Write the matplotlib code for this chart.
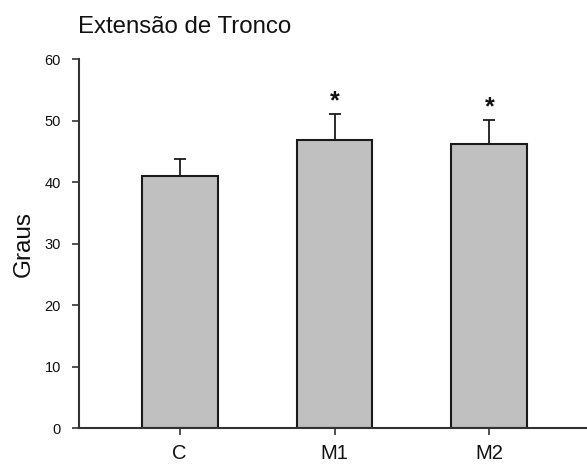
import matplotlib
matplotlib.use("Agg")
import matplotlib.pyplot as plt

# Trunk extension (degrees), mean and SD per group
groups = ["C", "M1", "M2"]
means = [41.1, 46.8, 46.3]
errors = [2.7, 4.3, 3.8]
significant = [False, True, True]
yticks = [0, 10, 20, 30, 40, 50, 60]

plt.rcParams["font.family"] = ["Liberation Sans", "DejaVu Sans"]

W, H = 587, 466
fig = plt.figure(figsize=(W / 100, H / 100), dpi=100)
ax = fig.add_axes([79 / W, 1 - 428.3 / H, (587 - 79) / W, (428.3 - 59.3) / H])

x = list(range(len(groups)))
ax.bar(x, means, width=0.49, color="#c0c0c0", edgecolor="#1a1a1a",
       linewidth=1.5, zorder=2)
ax.errorbar(x, means, yerr=[[0] * len(errors), errors], fmt="none",
            ecolor="#1a1a1a", elinewidth=1.3, capsize=4.5, capthick=1.3,
            zorder=3)

for xi, m, e, sig in zip(x, means, errors, significant):
    if sig:
        ax.text(xi, m + e + 0.15, "*", ha="center", va="bottom",
                fontsize=18, fontweight="bold", color="#111111")

ax.set_xlim(-0.65, 2.63)
ax.set_ylim(0, 60)
ax.set_yticks(yticks)
ax.set_xticks(x)
ax.set_xticklabels(groups, fontsize=14.5, color="#111111")
ax.set_yticklabels([str(t) for t in yticks], fontsize=10.5, color="#111111")

ax.tick_params(axis="x", direction="out", length=5, width=1.2,
               color="#333333", pad=6)
ax.tick_params(axis="y", direction="out", length=5, width=1.2,
               color="#333333", pad=8)

for side in ("top", "right"):
    ax.spines[side].set_visible(False)
for side in ("left", "bottom"):
    ax.spines[side].set_linewidth(1.5)
    ax.spines[side].set_color("#333333")

ax.set_ylabel("Graus", fontsize=17.5, color="#111111")
ax.yaxis.set_label_coords(-(79 - 35) / (587 - 79), 0.5)

fig.text(78 / W, 1 - 33 / H, "Extensão de Tronco", fontsize=17.3,
         color="#111111", ha="left", va="baseline")

fig.savefig("out.png", dpi=100)
